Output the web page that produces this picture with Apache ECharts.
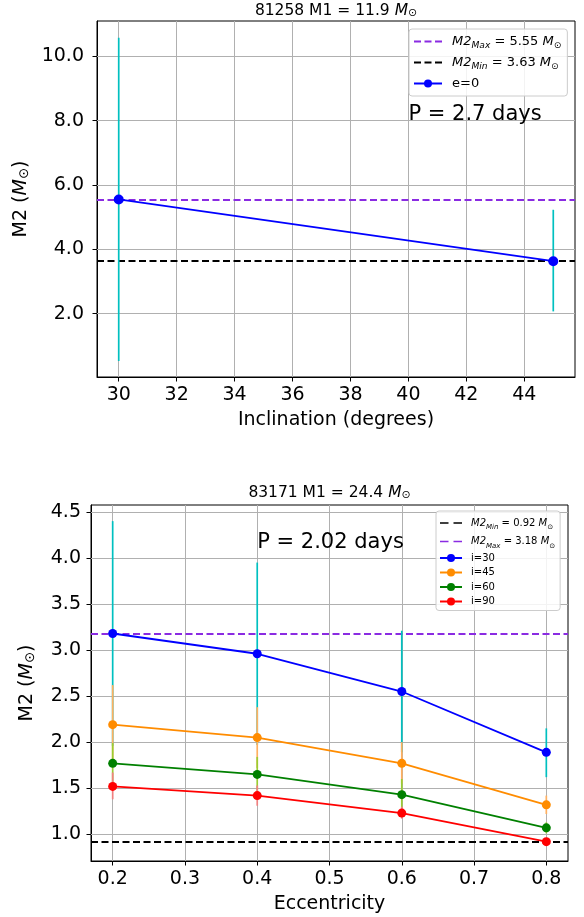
<!DOCTYPE html>
<html><head><meta charset="utf-8">
<script src="https://cdn.jsdelivr.net/npm/echarts@6/dist/echarts.min.js"></script>
<style>html,body{margin:0;padding:0;background:#fff}#c{width:584px;height:917px}</style>
</head><body><div id="c"></div>
<script>
// ---------- Top panel: 81258 ----------
const inclination = [30, 45];
const m2E0 = [5.55, 3.63];
const m2E0Low = [0.53, 2.07];
const m2E0High = [10.58, 5.23];
const topM2Max = 5.55;
const topM2Min = 3.63;
const topXTicks = [30, 32, 34, 36, 38, 40, 42, 44];
const topYTicks = [2, 4, 6, 8, 10];
const topNoteAt = [40, 8.0];
const topNoteText = 'P = 2.7 days';

// ---------- Bottom panel: 83171 ----------
const eccentricity = [0.2, 0.4, 0.6, 0.8];
const m2i30 = [3.18, 2.96, 2.55, 1.89];
const m2i30Low = [1.96, 1.97, 1.89, 1.62];
const m2i30High = [4.40, 3.95, 3.21, 2.15];
const m2i45 = [2.19, 2.05, 1.77, 1.32];
const m2i45Low = [1.76, 1.72, 1.55, 1.22];
const m2i45High = [2.62, 2.38, 2.00, 1.42];
const m2i60 = [1.77, 1.65, 1.43, 1.07];
const m2i60Low = [1.55, 1.47, 1.29, 1.01];
const m2i60High = [1.99, 1.84, 1.60, 1.13];
const m2i90 = [1.52, 1.42, 1.23, 0.92];
const m2i90Low = [1.38, 1.31, 1.17, 0.89];
const m2i90High = [1.67, 1.53, 1.30, 0.95];
const botM2Min = 0.92;
const botM2Max = 3.18;
const botXTicks = [0.2, 0.3, 0.4, 0.5, 0.6, 0.7, 0.8];
const botYTicks = [1.0, 1.5, 2.0, 2.5, 3.0, 3.5, 4.0, 4.5];
const botNoteAt = [0.4, 4.1];
const botNoteText = 'P = 2.02 days';

const FF = 'DejaVu Sans';
const GRAY = '#b0b0b0';
const DASH3 = 'path://M0,0h7v1.8h-7zM10.5,0h7v1.8h-7zM21,0h7v1.8h-7z';
const DASH2 = 'path://M0,0h8.5v1.6h-8.5zM13.5,0h8.5v1.6h-8.5z';

function rich(size, lh) {
  const s = Math.round(size * 0.7 * 10) / 10;
  return {
    it: {fontSize: size, fontFamily: FF, fontStyle: 'italic', color: '#000', lineHeight: lh},
    n: {fontSize: size, fontFamily: FF, color: '#000', lineHeight: lh},
    sub: {fontSize: s, fontFamily: FF, fontStyle: 'italic', color: '#000', verticalAlign: 'bottom', lineHeight: s},
    sun: {fontSize: s, fontFamily: FF, color: '#000', verticalAlign: 'bottom', lineHeight: s}
  };
}
function pairs(xs, ys) { return xs.map((x, i) => [x, ys[i]]); }
function errSeries(xi, xs, lo, hi, color, z) {
  return {
    type: 'custom', name: '_err' + z, xAxisIndex: xi, yAxisIndex: xi, z: z, silent: true,
    data: xs.map((x, i) => [x, lo[i], hi[i]]), encode: {x: 0, y: [1, 2]},
    renderItem: function (params, api) {
      const a = api.coord([api.value(0), api.value(1)]);
      const b = api.coord([api.value(0), api.value(2)]);
      return {type: 'line', shape: {x1: a[0], y1: a[1], x2: b[0], y2: b[1]},
        style: {stroke: color, lineWidth: 1.7}};
    }
  };
}
function lineSeries(name, xi, xs, ys, color, z, size) {
  return {
    type: 'line', name: name, xAxisIndex: xi, yAxisIndex: xi, z: z, data: pairs(xs, ys),
    symbol: 'circle', symbolSize: size, showSymbol: true,
    lineStyle: {color: color, width: 1.8}, itemStyle: {color: color},
    emphasis: {disabled: true}, silent: true
  };
}
function hLine(name, xi, value, color, z) {
  return {
    type: 'line', name: name, xAxisIndex: xi, yAxisIndex: xi, data: [], z: z, symbol: 'none',
    itemStyle: {color: color}, lineStyle: {color: color, type: 'dashed', width: 1.8},
    markLine: {silent: true, z: z, symbol: ['none', 'none'], label: {show: false},
      emphasis: {disabled: true},
      lineStyle: {color: color, type: [7, 3.5], width: 1.8}, data: [{yAxis: value}]}
  };
}
function gridLines(xi, xt, yt) {
  return {
    type: 'line', name: '_grid' + xi, xAxisIndex: xi, yAxisIndex: xi, data: [], z: 1, symbol: 'none',
    markLine: {silent: true, z: 1, symbol: ['none', 'none'], label: {show: false},
      emphasis: {disabled: true},
      lineStyle: {color: GRAY, type: 'solid', width: 1},
      data: xt.map(v => ({xAxis: v})).concat(yt.map(v => ({yAxis: v})))}
  };
}
function xAxisOpt(gi, min, max, ticks, fmt, name) {
  return {
    gridIndex: gi, type: 'value', min: min, max: max,
    axisLine: {show: true, onZero: false, lineStyle: {color: '#000', width: 1}},
    axisTick: {show: true, length: 4.5, customValues: ticks, lineStyle: {color: '#000', width: 1}},
    axisLabel: {customValues: ticks, formatter: fmt, fontSize: 19, fontFamily: FF, color: '#000', margin: 9},
    splitLine: {show: false},
    name: name, nameLocation: 'middle', nameGap: 34,
    nameTextStyle: {fontSize: 19, fontFamily: FF, color: '#000'}
  };
}
function yAxisOpt(gi, min, max, ticks, gap, margin) {
  return {
    gridIndex: gi, type: 'value', min: min, max: max,
    axisLine: {show: true, onZero: false, lineStyle: {color: '#000', width: 1}},
    axisTick: {show: true, length: 4.5, customValues: ticks, lineStyle: {color: '#000', width: 1}},
    axisLabel: {customValues: ticks, formatter: v => v.toFixed(1), fontSize: 19, fontFamily: FF, color: '#000', margin: margin},
    splitLine: {show: false},
    name: 'M2 ({it|M}{sun|⊙})', nameLocation: 'middle', nameGap: gap,
    nameTextStyle: {fontSize: 19, fontFamily: FF, color: '#000', rich: rich(19)}
  };
}

const legendNames = {
  'tMax': '{it|M2}{sub|Max} = 5.55 {it|M}{sun|⊙}',
  'tMin': '{it|M2}{sub|Min} = 3.63 {it|M}{sun|⊙}',
  'e=0': 'e=0',
  'bMin': '{it|M2}{sub|Min} = 0.92 {it|M}{sun|⊙}',
  'bMax': '{it|M2}{sub|Max} = 3.18 {it|M}{sun|⊙}',
  'i=30': 'i=30', 'i=45': 'i=45', 'i=60': 'i=60', 'i=90': 'i=90'
};

const option = {
  animation: false,
  backgroundColor: '#fff',
  title: [
    {text: '81258 M1 = 11.9 {it|M}{sun|⊙}', left: 336, top: 3, textAlign: 'center', padding: 0,
      textStyle: {fontSize: 15.5, fontFamily: FF, color: '#000', fontWeight: 'normal', rich: rich(15.5)}},
    {text: '83171 M1 = 24.4 {it|M}{sun|⊙}', left: 329.5, top: 485, textAlign: 'center', padding: 0,
      textStyle: {fontSize: 15.5, fontFamily: FF, color: '#000', fontWeight: 'normal', rich: rich(15.5)}}
  ],
  grid: [
    {left: 97, top: 21, width: 478, height: 356, show: true, borderColor: '#000', borderWidth: 1, backgroundColor: 'transparent'},
    {left: 91, top: 505, width: 477, height: 356, show: true, borderColor: '#000', borderWidth: 1, backgroundColor: 'transparent'}
  ],
  xAxis: [
    xAxisOpt(0, 29.25, 45.75, topXTicks, v => String(Math.round(v)), 'Inclination (degrees)'),
    xAxisOpt(1, 0.17, 0.83, botXTicks, v => v.toFixed(1), 'Eccentricity')
  ],
  yAxis: [
    yAxisOpt(0, 0.03, 11.1, topYTicks, 56, 13),
    yAxisOpt(1, 0.71, 4.575, botYTicks, 54, 10)
  ],
  legend: [
    {left: 409, top: 29, orient: 'vertical', padding: [4, 6, 4, 4], itemGap: 4, itemWidth: 28, itemHeight: 10,
      backgroundColor: 'rgba(255,255,255,0.85)', borderColor: '#cccccc', borderWidth: 1, borderRadius: 3,
      selectedMode: false, data: [{name: 'tMax', icon: DASH3}, {name: 'tMin', icon: DASH3}, {name: 'e=0'}],
      formatter: n => legendNames[n],
      textStyle: {fontSize: 13, fontFamily: FF, color: '#000', lineHeight: 17, padding: [0, 0, 0, 5], rich: rich(13, 17)}},
    {left: 436, top: 511, orient: 'vertical', padding: [4, 5, 3, 3], itemGap: 2.5, itemWidth: 22, itemHeight: 10,
      backgroundColor: 'rgba(255,255,255,0.85)', borderColor: '#cccccc', borderWidth: 1, borderRadius: 3,
      selectedMode: false,
      data: [{name: 'bMin', icon: DASH2}, {name: 'bMax', icon: DASH2}, {name: 'i=30'}, {name: 'i=45'}, {name: 'i=60'}, {name: 'i=90'}],
      formatter: n => legendNames[n],
      textStyle: {fontSize: 10, fontFamily: FF, color: '#000', lineHeight: 12, padding: [0, 0, 0, 4], rich: rich(10, 16)}}
  ],
  series: [
    gridLines(0, topXTicks, topYTicks),
    hLine('tMax', 0, topM2Max, '#8a2be2', 3),
    hLine('tMin', 0, topM2Min, '#000000', 3),
    errSeries(0, inclination, m2E0Low, m2E0High, '#00c0c0', 5),
    lineSeries('e=0', 0, inclination, m2E0, '#0000ff', 6, 10),

    gridLines(1, botXTicks, botYTicks),
    hLine('bMin', 1, botM2Min, '#000000', 3),
    hLine('bMax', 1, botM2Max, '#8a2be2', 3),
    errSeries(1, eccentricity, m2i30Low, m2i30High, '#00c0c0', 5),
    lineSeries('i=30', 1, eccentricity, m2i30, '#0000ff', 6, 9),
    errSeries(1, eccentricity, m2i45Low, m2i45High, '#ffb060', 7),
    lineSeries('i=45', 1, eccentricity, m2i45, '#ff8c00', 8, 9),
    errSeries(1, eccentricity, m2i60Low, m2i60High, '#9acd32', 9),
    lineSeries('i=60', 1, eccentricity, m2i60, '#008000', 10, 9),
    errSeries(1, eccentricity, m2i90Low, m2i90High, '#f08080', 11),
    lineSeries('i=90', 1, eccentricity, m2i90, '#ff0000', 12, 9)
  ]
};
const chart = echarts.init(document.getElementById('c'));
chart.setOption(option);

// Annotations anchored at data coordinates through the chart's own scales (baseline at the point)
const pTop = chart.convertToPixel({xAxisIndex: 0, yAxisIndex: 0}, topNoteAt);
const pBot = chart.convertToPixel({xAxisIndex: 1, yAxisIndex: 1}, botNoteAt);
chart.setOption({
  graphic: [
    {type: 'text', x: pTop[0], y: pTop[1] - 17, z: 50, silent: true,
      style: {text: topNoteText, fontSize: 21, fontFamily: FF, fill: '#000', align: 'left', verticalAlign: 'top'}},
    {type: 'text', x: pBot[0], y: pBot[1] - 16.5, z: 50, silent: true,
      style: {text: botNoteText, fontSize: 21, fontFamily: FF, fill: '#000', align: 'left', verticalAlign: 'top'}}
  ]
});
</script>
</body></html>
